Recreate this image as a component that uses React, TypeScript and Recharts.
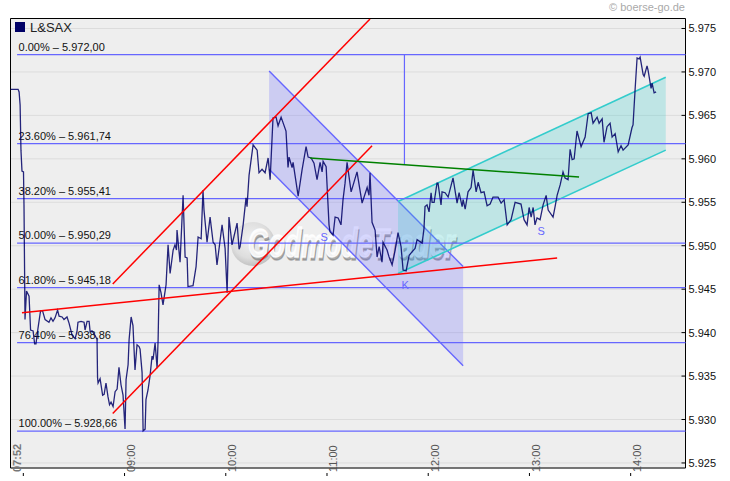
import React from "react"
import {
  Area,
  CartesianGrid,
  ComposedChart,
  Line,
  ReferenceArea,
  ReferenceDot,
  ReferenceLine,
  XAxis,
  YAxis,
} from "recharts"

// time in minutes since midnight, price in points
const times = [
  472.1, 476.9, 477.5, 478.1, 478.6, 479.2, 480.1, 480.4, 481.0, 481.9, 483.4, 484.3, 485.8, 486.7, 487.5, 488.7,
  490.2, 491.4, 492.9, 495.2, 496.4, 497.6, 498.8, 500.3, 501.2, 503.0, 504.1, 505.9, 507.1, 508.9, 510.7, 511.8,
  512.4, 514.2, 516.0, 516.6, 517.8, 519.0, 519.6, 520.7, 522.5, 523.7, 524.0, 524.3, 525.5, 527.0, 527.9, 529.0,
  530.2, 531.1, 532.0, 533.2, 534.4, 535.6, 536.7, 537.9, 539.1, 540.3, 540.9, 542.1, 542.7, 543.9, 545.0, 546.2,
  547.4, 548.6, 549.2, 550.4, 551.0, 552.2, 552.7, 553.9, 555.1, 556.3, 556.9, 558.1, 559.3, 559.9, 560.5, 561.6,
  562.8, 564.6, 565.8, 567.0, 568.8, 569.9, 570.8, 571.1, 572.9, 574.7, 575.9, 577.1, 577.6, 580.6, 582.4, 583.6,
  585.4, 586.5, 587.1, 588.9, 590.7, 592.5, 593.7, 594.8, 597.8, 599.6, 600.8, 601.9, 603.7, 606.7, 607.9, 608.5,
  610.3, 612.0, 612.6, 613.8, 616.2, 618.6, 619.7, 621.5, 623.3, 625.1, 626.3, 628.0, 629.8, 631.0, 632.8, 635.7,
  636.9, 637.5, 639.3, 639.9, 642.9, 645.2, 647.6, 648.8, 650.6, 652.3, 654.1, 655.9, 657.1, 657.7, 659.5, 661.2,
  661.8, 663.6, 664.8, 666.6, 668.3, 669.5, 670.7, 671.9, 674.3, 677.8, 680.8, 683.8, 684.9, 685.5, 686.7, 688.5,
  689.7, 690.9, 692.6, 693.2, 695.6, 696.8, 698.6, 700.4, 702.1, 703.9, 705.1, 706.9, 708.7, 710.4, 712.2, 713.4,
  716.4, 717.5, 718.1, 719.3, 720.5, 721.7, 722.3, 723.5, 725.2, 725.8, 727.6, 728.2, 730.0, 731.8, 734.7, 737.1,
  738.3, 740.1, 740.7, 741.9, 743.6, 745.4, 746.6, 748.4, 749.6, 751.3, 753.1, 754.9, 756.7, 758.4, 761.4, 763.2,
  765.0, 766.8, 769.1, 771.5, 775.0, 776.8, 778.6, 779.8, 781.0, 782.2, 783.3, 784.5, 786.3, 788.1, 789.9, 791.1,
  794.0, 795.2, 796.4, 798.2, 799.9, 801.1, 802.9, 804.1, 805.3, 806.5, 808.2, 810.6, 813.0, 814.8, 816.6, 817.7,
  820.1, 821.3, 823.1, 824.2, 826.0, 827.8, 829.0, 830.8, 832.6, 834.3, 835.5, 838.5, 840.8, 841.4, 842.6, 843.8,
  845.0, 845.6, 847.4, 848.0, 849.7, 850.3, 852.1, 852.7, 853.9, 855.1,
]
const prices = [
  5.968, 5.968, 5.9677, 5.9662, 5.961, 5.9586, 5.9585, 5.9547, 5.9415, 5.9448, 5.9442, 5.9403, 5.9402, 5.9387, 5.9387, 5.9405,
  5.9425, 5.9425, 5.9415, 5.9412, 5.9417, 5.9413, 5.9417, 5.9426, 5.9419, 5.9418, 5.9415, 5.9418, 5.9411, 5.9397, 5.9393, 5.9401,
  5.9412, 5.9413, 5.9412, 5.9403, 5.9413, 5.9413, 5.9401, 5.9402, 5.9397, 5.9392, 5.9348, 5.9342, 5.9347, 5.9328, 5.9329, 5.9342,
  5.9326, 5.9317, 5.932, 5.9315, 5.9332, 5.9335, 5.936, 5.934, 5.9328, 5.9289, 5.9346, 5.9363, 5.9392, 5.9418, 5.9408, 5.9357,
  5.9386, 5.9384, 5.9381, 5.9354, 5.9287, 5.9289, 5.9323, 5.9334, 5.935, 5.9373, 5.9369, 5.9388, 5.9359, 5.9392, 5.9455, 5.9446,
  5.9432, 5.9455, 5.9501, 5.9468, 5.9495, 5.9501, 5.9495, 5.9518, 5.9481, 5.9558, 5.9487, 5.9486, 5.9453, 5.9454, 5.9476, 5.951,
  5.9508, 5.9564, 5.9541, 5.9504, 5.9533, 5.9504, 5.9501, 5.9478, 5.9524, 5.9497, 5.9446, 5.9533, 5.9501, 5.9526, 5.9496, 5.9499,
  5.9524, 5.9555, 5.9545, 5.9581, 5.9616, 5.961, 5.9584, 5.9588, 5.9584, 5.9601, 5.9576, 5.9647, 5.9648, 5.9638, 5.9648, 5.9632,
  5.959, 5.9602, 5.959, 5.9596, 5.9557, 5.9587, 5.9614, 5.9602, 5.9601, 5.9595, 5.9576, 5.9596, 5.9585, 5.9597, 5.9591, 5.9524,
  5.9516, 5.9512, 5.9533, 5.9532, 5.9524, 5.9553, 5.9572, 5.9596, 5.9562, 5.9585, 5.9549, 5.9567, 5.9558, 5.9584, 5.9527, 5.9518,
  5.9487, 5.9499, 5.9481, 5.9504, 5.9495, 5.9487, 5.9478, 5.9495, 5.9515, 5.9499, 5.9472, 5.9471, 5.9489, 5.9493, 5.9497, 5.9507,
  5.9503, 5.952, 5.9545, 5.9547, 5.9539, 5.9561, 5.955, 5.955, 5.9572, 5.9572, 5.9547, 5.9562, 5.9561, 5.9556, 5.9578, 5.9549,
  5.9561, 5.9545, 5.9553, 5.9542, 5.9562, 5.9567, 5.9587, 5.9562, 5.9573, 5.9561, 5.9562, 5.9546, 5.9548, 5.9556, 5.9556, 5.9549,
  5.9553, 5.9524, 5.953, 5.955, 5.9548, 5.953, 5.9524, 5.9544, 5.9533, 5.9544, 5.9524, 5.9532, 5.953, 5.9547, 5.9558, 5.9541,
  5.9533, 5.9545, 5.9558, 5.957, 5.9585, 5.9578, 5.9576, 5.9611, 5.9599, 5.96, 5.9632, 5.9614, 5.9625, 5.9652, 5.9653, 5.9641,
  5.9648, 5.9641, 5.9646, 5.9619, 5.9637, 5.9641, 5.9625, 5.9629, 5.9608, 5.9615, 5.961, 5.9616, 5.9636, 5.9639, 5.9679, 5.9716,
  5.9715, 5.9717, 5.9697, 5.9695, 5.9707, 5.9702, 5.9681, 5.9687, 5.9676, 5.9677,
]

const timeTicks = [480, 540, 600, 660, 720, 780, 840]
const timeLabels = ["07:52", "09:00", "10:00", "11:00", "12:00", "13:00", "14:00"]
const priceTicks = [5.925, 5.93, 5.935, 5.94, 5.945, 5.95, 5.955, 5.96, 5.965, 5.97, 5.975]

const fibPercents = ["0.00%", "23.60%", "38.20%", "50.00%", "61.80%", "76.40%", "100.00%"]
const fibPrices = [5.972, 5.96174, 5.95541, 5.95029, 5.94518, 5.93886, 5.92866]
const fibLabels = ["5.972,00", "5.961,74", "5.955,41", "5.950,29", "5.945,18", "5.938,86", "5.928,66"]

// drawn trend lines: [start time, start price, end time, end price]
const redUpper = [533.0, 5.9456, 685.5, 5.9761]
const redLower = [533.0, 5.9307, 686.7, 5.9615]
const redFlat = [479.2, 5.9423, 796.4, 5.9486]
const greenLine = [650.0, 5.9601, 809.4, 5.9579]
const blueDrop = [705.9, 5.972, 705.9, 5.9594]

// channels: time, low, high
const violetChannel = [
  { t: 625.7, range: [5.9588, 5.9701] },
  { t: 740.7, range: [5.9362, 5.9476] },
]
const tealChannel = [
  { t: 702.1, range: [5.9468, 5.9551] },
  { t: 860.8, range: [5.961, 5.9694] },
]

const priceRows = times.map((t, i) => ({ t, v: prices[i] }))
const segment = (s: number[]) => [
  { t: s[0], v: s[1] },
  { t: s[2], v: s[3] },
]

const FONT = "'Liberation Sans', Arial, sans-serif"
const BLUE = "#6666ff"

const TimeTick = ({ x, y, index }: any) => {
  const first = index === 0
  const tx = first ? x - 6.5 : x + 6.5
  return (
    <g>
      <line x1={x} x2={x} y1={y - 3} y2={y} stroke="#000" />
      <text
        transform={`translate(${tx + 4},${y - 4}) rotate(-90)`}
        fontSize={11}
        fontFamily={FONT}
        fontWeight={first ? "bold" : "normal"}
        fill={first ? "#777" : "#555"}
      >
        {timeLabels[index]}
      </text>
    </g>
  )
}

const PriceTick = ({ x, y, payload }: any) => (
  <g>
    <line x1={x - 4} x2={x} y1={y} y2={y} stroke="#000" />
    <text x={x + 3} y={y + 4} fontSize={11} fontFamily={FONT} fill="#111">
      {payload.value.toFixed(3)}
    </text>
  </g>
)

const FibLabel = (text: string) => (props: any) => (
  <text x={props.viewBox.x + 1.5} y={props.viewBox.y - 4} fontSize={11} fontFamily={FONT} fill="#111">
    {text}
  </text>
)

const LetterLabel = (text: string) => (props: any) => (
  <text x={props.viewBox.x} y={props.viewBox.y + 4} textAnchor="middle" fontSize={11} fontFamily={FONT} fill={BLUE}>
    {text}
  </text>
)

const Watermark = () => (
  <g>
    <defs>
      <radialGradient id="ball" cx="45%" cy="40%" r="60%">
        <stop offset="0%" stopColor="#f2f2f2" />
        <stop offset="70%" stopColor="#dcdcdc" />
        <stop offset="100%" stopColor="#bdbdbd" />
      </radialGradient>
    </defs>
    <circle cx={253} cy={244} r={22} fill="url(#ball)" fillOpacity={0.9} />
    <text
      x={249}
      y={259.5}
      textLength={207}
      lengthAdjust="spacingAndGlyphs"
      fontSize={40}
      fontStyle="italic"
      fontWeight="bold"
      fontFamily={FONT}
      fill="#808080"
      fillOpacity={0.6}
      stroke="#808080"
      strokeOpacity={0.6}
      strokeWidth={1.5}
    >
      GodmodeTrader
    </text>
    <text
      x={248}
      y={257}
      textLength={207}
      lengthAdjust="spacingAndGlyphs"
      fontSize={40}
      fontStyle="italic"
      fontWeight="bold"
      fontFamily={FONT}
      fill="#ffffff"
      fillOpacity={0.88}
      stroke="#ffffff"
      strokeOpacity={0.88}
      strokeWidth={1.5}
    >
      GodmodeTrader
    </text>
  </g>
)

export default function App() {
  return (
    <div style={{ position: "absolute", left: 0, top: 0, width: 730, height: 481, background: "#fff" }}>
      <ComposedChart width={730} height={481} margin={{ top: 18.5, right: 0, bottom: 0, left: 10.5 }}>
        <CartesianGrid vertical={false} stroke="#dcdcdc" fill="#eeeeee" />
        <XAxis
          type="number"
          dataKey="t"
          domain={[472.4, 872.5]}
          ticks={timeTicks}
          height={13}
          axisLine={false}
          tickLine={false}
          tick={<TimeTick />}
          interval={0}
          allowDataOverflow
        />
        <YAxis
          orientation="right"
          type="number"
          domain={[5.92442, 5.97615]}
          ticks={priceTicks}
          width={44.5}
          axisLine={false}
          tickLine={false}
          tickSize={0}
          tickMargin={0}
          tick={<PriceTick />}
          interval={0}
          allowDataOverflow
        />
        <Area
          data={violetChannel}
          dataKey="range"
          type="linear"
          stroke={BLUE}
          strokeWidth={1.4}
          fill={BLUE}
          fillOpacity={0.25}
          dot={false}
          activeDot={false}
          isAnimationActive={false}
        />
        <Area
          data={tealChannel}
          dataKey="range"
          type="linear"
          stroke="#33cccc"
          strokeWidth={1.6}
          fill="#33cccc"
          fillOpacity={0.25}
          dot={false}
          activeDot={false}
          isAnimationActive={false}
        />
        <Watermark />
        {fibPrices.map((p, i) => (
          <ReferenceLine
            key={p}
            segment={[
              { x: 476.3, y: p },
              { x: 872.5, y: p },
            ]}
            stroke={BLUE}
            strokeWidth={1.2}
            label={{ content: FibLabel(`${fibPercents[i]} – ${fibLabels[i]}`) }}
          />
        ))}
        <Line
          data={segment(blueDrop)}
          dataKey="v"
          stroke={BLUE}
          strokeWidth={1.2}
          dot={false}
          activeDot={false}
          isAnimationActive={false}
        />
        <Line
          data={priceRows}
          dataKey="v"
          type="linear"
          stroke="#000066"
          strokeWidth={1.3}
          strokeOpacity={0.85}
          dot={false}
          activeDot={false}
          isAnimationActive={false}
        />
        {[redUpper, redLower, redFlat].map((s) => (
          <Line
            key={s[1]}
            data={segment(s)}
            dataKey="v"
            stroke="#ff0000"
            strokeWidth={1.5}
            dot={false}
            activeDot={false}
            isAnimationActive={false}
          />
        ))}
        <Line
          data={segment(greenLine)}
          dataKey="v"
          stroke="#008000"
          strokeWidth={1.5}
          dot={false}
          activeDot={false}
          isAnimationActive={false}
        />
        <ReferenceDot x={658.3} y={5.951} r={0} stroke="none" label={{ content: LetterLabel("S") }} />
        <ReferenceDot x={786.9} y={5.9517} r={0} stroke="none" label={{ content: LetterLabel("S") }} />
        <ReferenceDot x={706.3} y={5.9455} r={0} stroke="none" label={{ content: LetterLabel("K") }} />
        <ReferenceArea x1={472.4} x2={872.5} y1={5.92442} y2={5.97615} fill="none" stroke="#000" strokeWidth={1} />
        <rect x={15} y={22} width={10} height={10} fill="#000066" />
        <text x={30} y={32} fontSize={13} fontFamily={FONT} fill="#222">
          L&amp;SAX
        </text>
        <text x={609} y={11} fontSize={11} fontFamily={FONT} fill="#aaa">
          © boerse-go.de
        </text>
      </ComposedChart>
    </div>
  )
}
